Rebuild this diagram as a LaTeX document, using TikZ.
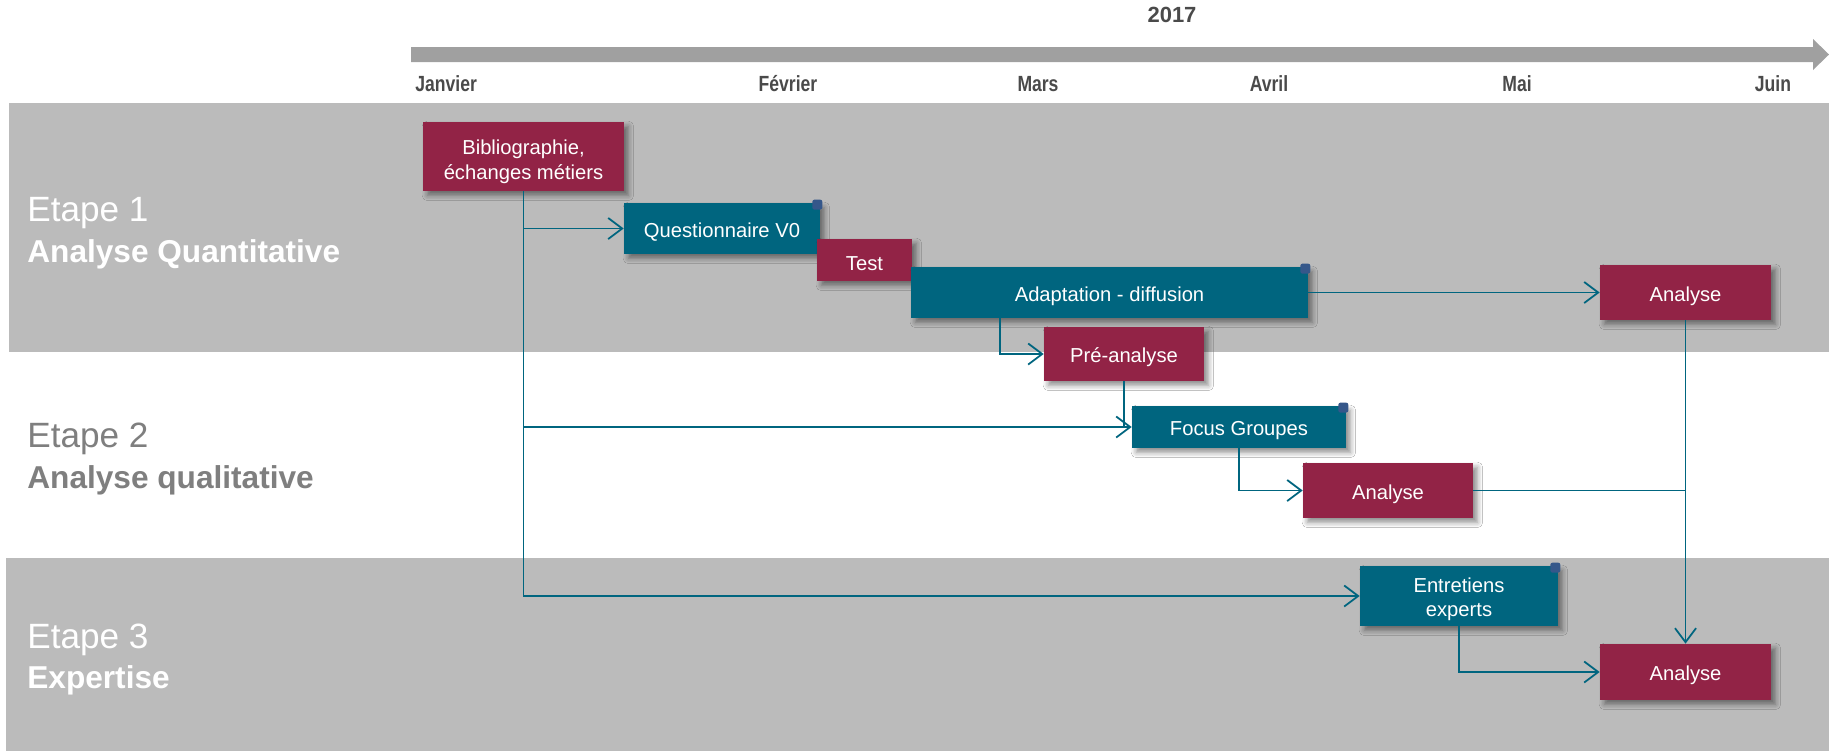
\documentclass[tikz,border=0pt]{standalone}
\usepackage{fontspec}
\setmainfont{Liberation Sans}
\newfontfamily\narrowfont[FakeStretch=0.8]{Liberation Sans}
\usetikzlibrary{arrows.meta, positioning, shadows.blur}

\definecolor{bandgray}{HTML}{BBBBBB}
\definecolor{axisgray}{HTML}{A0A0A0}
\definecolor{monthgray}{HTML}{4A4A4A}
\definecolor{stagegray}{HTML}{7F7F7F}
\definecolor{wine}{HTML}{922346}
\definecolor{petrol}{HTML}{00657F}
\definecolor{cornerblue}{HTML}{35578A}

\tikzset{
  task/.style={text=white, align=center, inner sep=0pt,
    font=\fontsize{11.5}{14}\selectfont,
    blur shadow={shadow xshift=2.5pt, shadow yshift=-2.5pt,
      shadow blur radius=3pt, shadow opacity=45}},
  oneline/.style={execute at begin node={\rule{0pt}{12.5pt}}},
  redtask/.style={task, fill=wine},
  bluetask/.style={task, fill=petrol},
  marker/.style={fill=cornerblue, rounded corners=1.2pt, inner sep=0pt,
    minimum size=0.2cm},
  link/.style={draw=petrol, line width=1pt},
  arrow/.style={link, -{Straight Barb[length=8pt, width=12pt]}},
  month/.style={text=monthgray, font=\narrowfont\fontsize{12.5}{14}\selectfont\bfseries},
  stagetitle/.style={anchor=west, inner sep=0pt, font=\fontsize{20}{24}\selectfont},
  stagename/.style={anchor=west, inner sep=0pt, font=\fontsize{18}{20}\selectfont\bfseries}
}

\begin{document}
\begin{tikzpicture}[x=0.02cm, y=-0.02cm]
\useasboundingbox (0,0) rectangle (1829,751);
\fill[white] (0,0) rectangle (1829,751);

\fill[bandgray] (9,103) rectangle (1829,352);
\fill[bandgray] (6,558) rectangle (1829,751);

\fill[axisgray] (411,47) -- (1813,47) -- (1813,39) -- (1829,54.5)
  -- (1813,70) -- (1813,62) -- (411,62) -- cycle;
\node[month, font=\fontsize{12.5}{14}\selectfont\bfseries] (year) at (1172,15) {2017};
\node[month, anchor=west, inner sep=0pt] (jan) at (415,84) {Janvier};
\node[month] (feb) at (788,84) {Février};
\node[month] (mar) at (1038,84) {Mars};
\node[month] (apr) at (1269,84) {Avril};
\node[month] (may) at (1517,84) {Mai};
\node[month] (jun) at (1773,84) {Juin};

\node[stagetitle, text=white] (stage1) at (27,213.5) {Etape 1};
\node[stagename, text=white] (stage1name) at (27,254.5) {Analyse Quantitative};
\node[stagetitle, text=stagegray] (stage2) at (27,438.5) {Etape 2};
\node[stagename, text=stagegray] (stage2name) at (27,480.5) {Analyse qualitative};
\node[stagetitle, text=white] (stage3) at (27,639.5) {Etape 3};
\node[stagename, text=white] (stage3name) at (27,680.5) {Expertise};

\node[redtask, minimum width=4.02cm, minimum height=1.38cm] (biblio) at (523.5,156.5)
  {\rule{0pt}{14.5pt}Bibliographie,\\échanges métiers};
\node[bluetask, oneline, minimum width=3.92cm, minimum height=1.02cm] (quest) at (722,228.5)
  {Questionnaire V0};
\node[redtask, oneline, minimum width=1.90cm, minimum height=0.84cm] (test) at (864.5,260) {Test};
\node[bluetask, oneline, minimum width=7.94cm, minimum height=1.02cm] (adapt) at (1109.5,292.5)
  {Adaptation - diffusion};
\node[redtask, oneline, minimum width=3.42cm, minimum height=1.10cm] (quantana) at (1685.5,292.5)
  {Analyse};
\node[redtask, oneline, minimum width=3.20cm, minimum height=1.08cm] (preana) at (1124,354)
  {Pré-analyse};
\node[bluetask, oneline, minimum width=4.28cm, minimum height=0.84cm] (focus) at (1239,427)
  {Focus Groupes};
\node[redtask, oneline, minimum width=3.40cm, minimum height=1.10cm] (qualana) at (1388,490.5)
  {Analyse};
\node[bluetask, minimum width=3.96cm, minimum height=1.20cm] (interviews) at (1459,596)
  {\rule{0pt}{12pt}Entretiens\\experts};
\node[redtask, oneline, minimum width=3.42cm, minimum height=1.12cm] (expertana) at (1685.5,672)
  {Analyse};

\node[marker] (questmark) at ([xshift=-0.06cm, yshift=-0.04cm]quest.north east) {};
\node[marker] (adaptmark) at ([xshift=-0.06cm, yshift=-0.04cm]adapt.north east) {};
\node[marker] (focusmark) at ([xshift=-0.06cm, yshift=-0.04cm]focus.north east) {};
\node[marker] (interviewsmark) at ([xshift=-0.06cm, yshift=-0.04cm]interviews.north east) {};

\draw[arrow] (biblio.south) |- (quest.west);
\draw[arrow] (biblio.south) |- (focus.west);
\draw[arrow] (biblio.south) |- (interviews.west);
\draw[arrow] (adapt.east) -- (quantana.west);
\draw[arrow] ([xshift=1.78cm]adapt.south west) |- (preana.west);
\draw[link] (preana.south) -- (preana.south |- focus.west);
\draw[arrow] (focus.south) |- (qualana.west);
\draw[link] (qualana.east) -- (qualana.east -| quantana.south);
\draw[arrow] (quantana.south) -- (expertana.north);
\draw[arrow] (interviews.south) |- (expertana.west);
\end{tikzpicture}
\end{document}
